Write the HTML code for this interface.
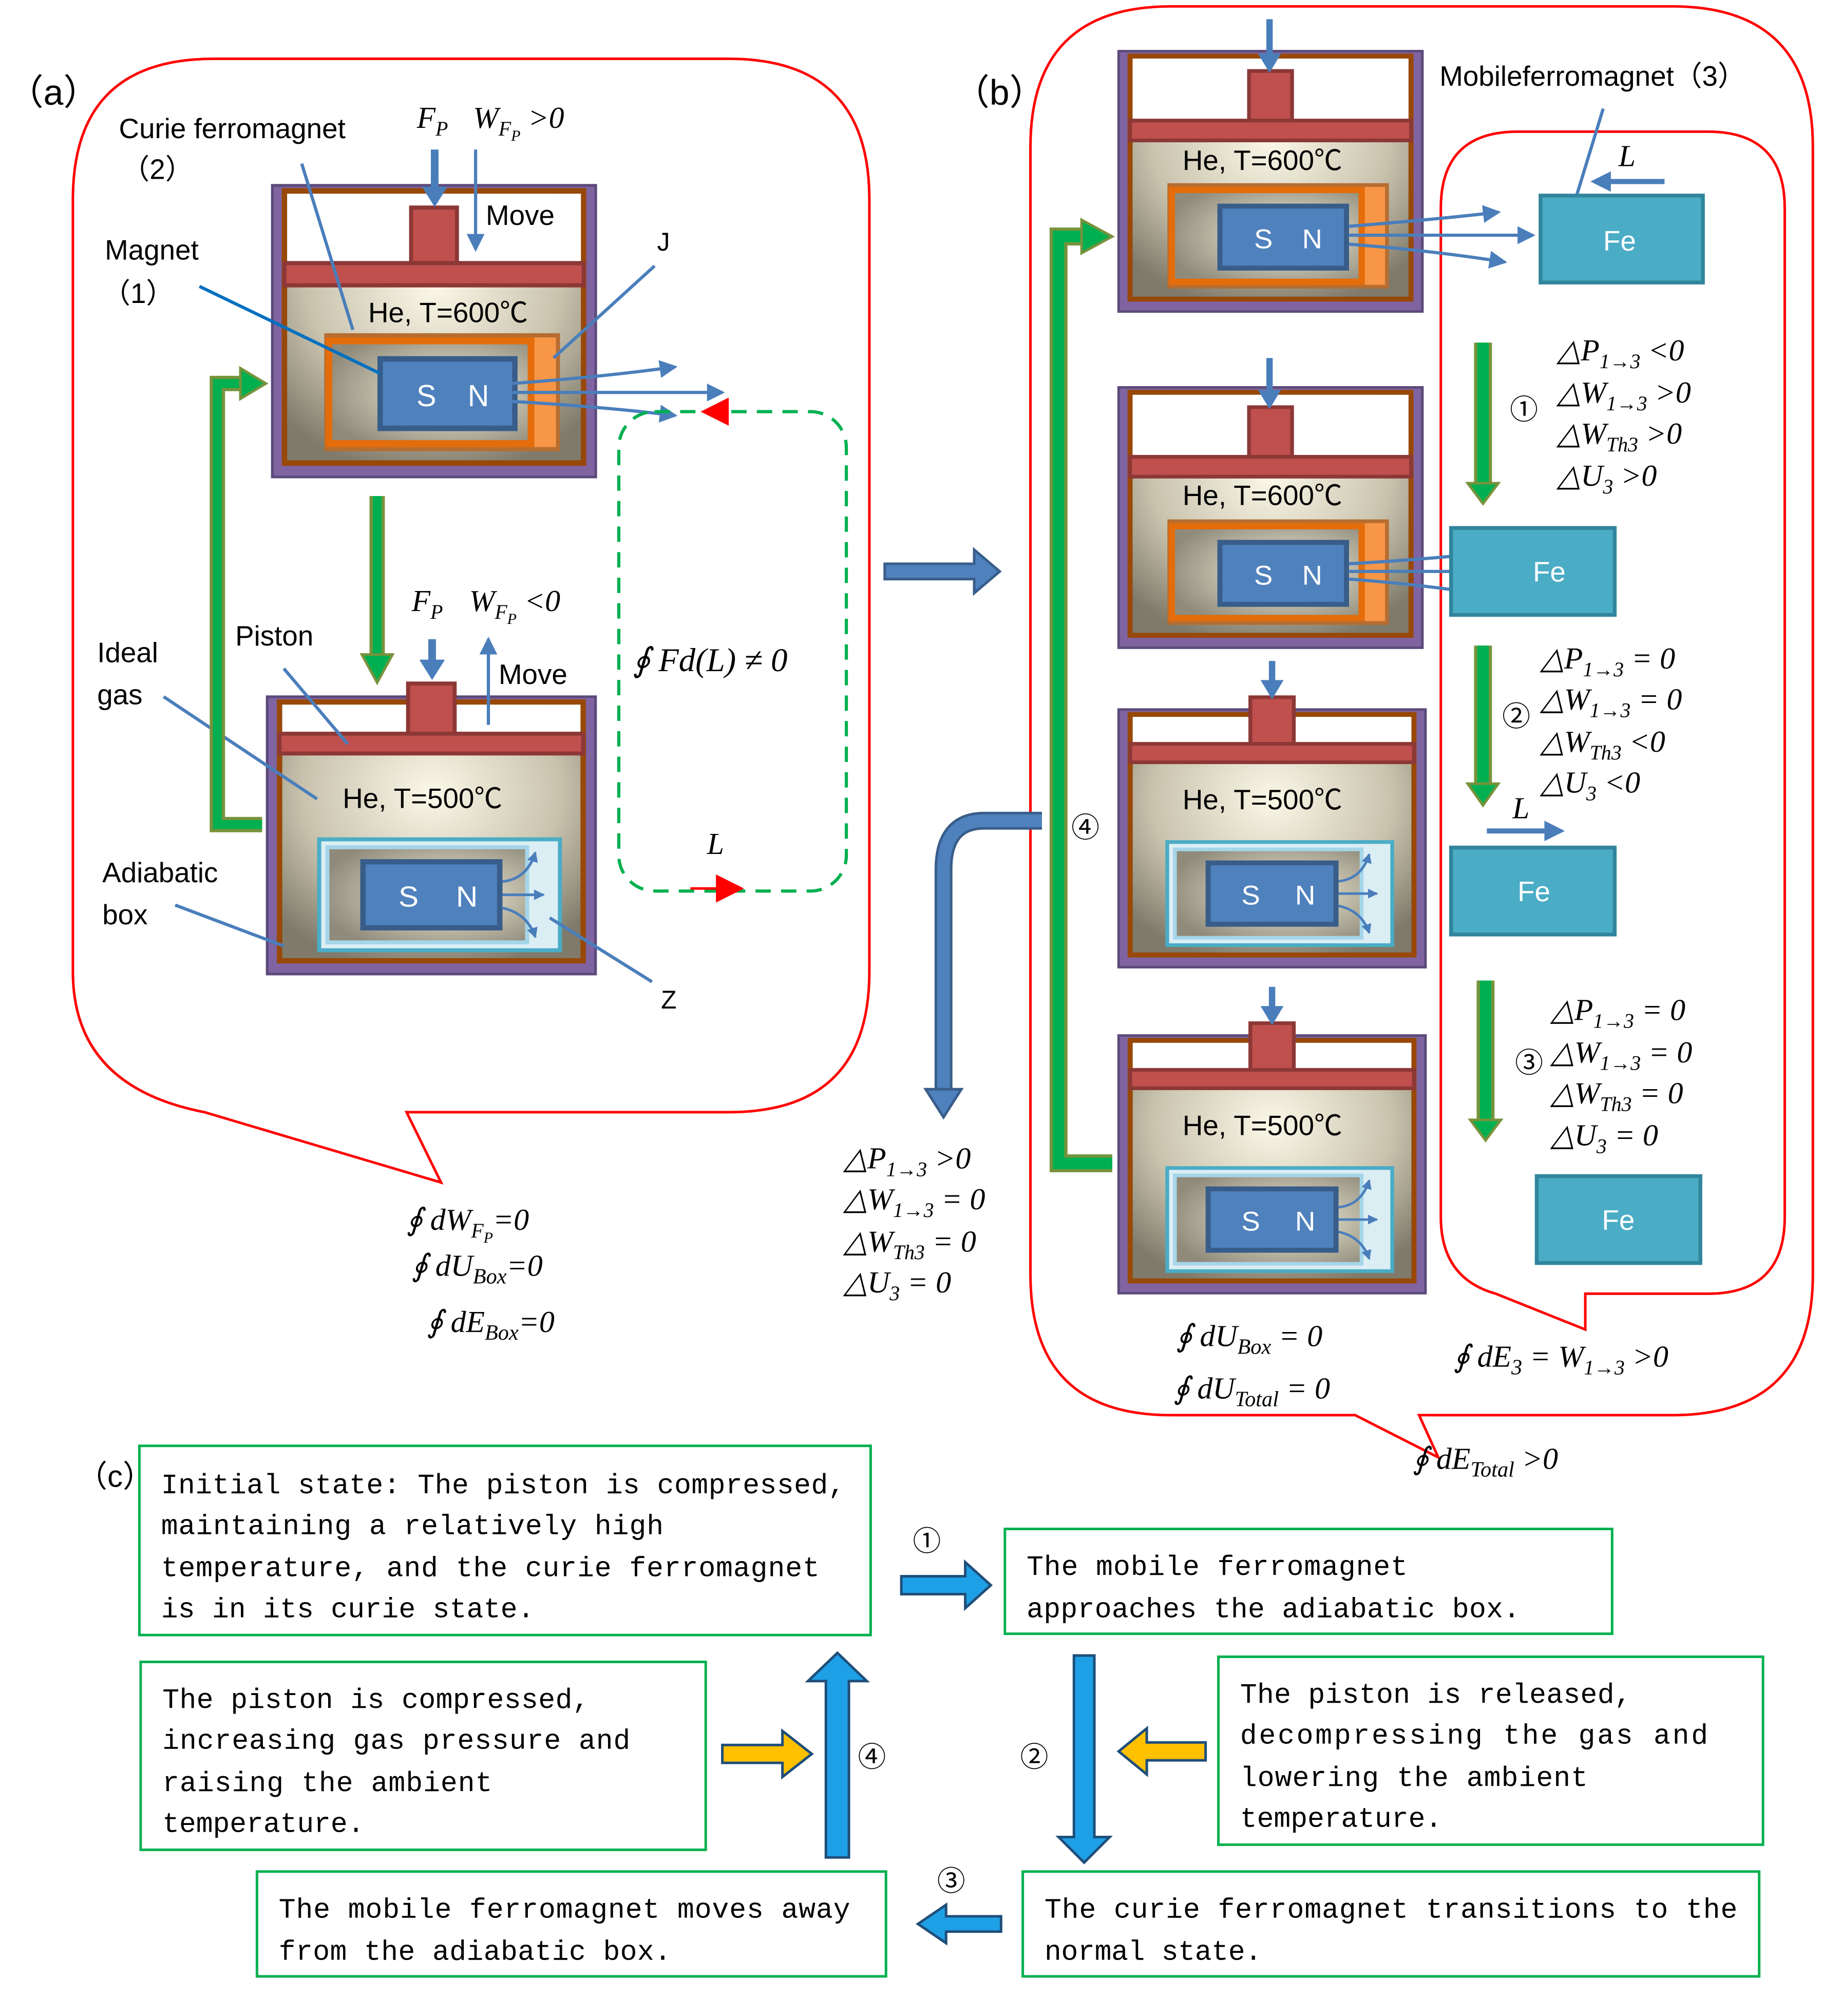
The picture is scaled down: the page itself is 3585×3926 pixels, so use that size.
<!DOCTYPE html>
<html><head><meta charset="utf-8"><style>
html,body{margin:0;padding:0;background:#fff}
svg{display:block}
.t{font-family:"Liberation Sans","Noto Sans CJK SC",sans-serif;fill:#000}
.m{font-family:"Liberation Serif",serif;font-style:italic;fill:#000}
.c{font-family:"Liberation Mono","Noto Sans CJK SC",monospace;fill:#000;font-size:22px}
</style></head><body>
<svg width="3585" height="3926" viewBox="0 0 1440 1577" xmlns="http://www.w3.org/2000/svg">
<defs>
<radialGradient id="gas" cx="50%" cy="35%" r="70%"><stop offset="0" stop-color="#fbf8e8"/><stop offset="0.6" stop-color="#c9c3ae"/><stop offset="1" stop-color="#7f7a6a"/></radialGradient>
<radialGradient id="inn" cx="60%" cy="50%" r="65%"><stop offset="0" stop-color="#f5f1dc"/><stop offset="1" stop-color="#8f8a7a"/></radialGradient>
<marker id="ab" markerWidth="8" markerHeight="8" refX="7" refY="4" orient="auto" markerUnits="userSpaceOnUse"><path d="M0,0 L8,4 L0,8 z" fill="#4a7ebb"/></marker>
<marker id="ab2" markerWidth="14" markerHeight="14" refX="12" refY="7" orient="auto" markerUnits="userSpaceOnUse"><path d="M0,0 L14,7 L0,14 z" fill="#4a7ebb"/></marker>
<g id="box">
<rect x="0" y="0" width="240" height="210" fill="#8064a2" stroke="#5c4a7a" stroke-width="2"/>
<rect x="9" y="4" width="222" height="196" fill="url(#gas)" stroke="#984807" stroke-width="4"/>
<rect x="11" y="6" width="218" height="50" fill="#fff"/>
<rect x="103" y="16" width="34" height="40" fill="#c0504d" stroke="#8c3836" stroke-width="3"/>
<rect x="9" y="56" width="222" height="16" fill="#c0504d" stroke="#8c3836" stroke-width="3"/>
</g>
<g id="cbox">
<rect x="0" y="0" width="240" height="210" fill="#8064a2" stroke="#5c4a7a" stroke-width="2"/>
<rect x="9" y="4" width="222" height="196" fill="url(#gas)" stroke="#984807" stroke-width="4"/>
<rect x="11" y="6" width="218" height="22" fill="#fff"/>
<rect x="103" y="-10" width="34" height="38" fill="#c0504d" stroke="#8c3836" stroke-width="3"/>
<rect x="9" y="28" width="222" height="15" fill="#c0504d" stroke="#8c3836" stroke-width="3"/>
</g>
<g id="hot">
<rect x="40" y="108" width="172" height="82" fill="#f79646" stroke="#b66d31" stroke-width="3"/>
<rect x="42" y="112" width="150" height="74" fill="url(#inn)" stroke="#e46c0a" stroke-width="5"/>
<rect x="80" y="125" width="100" height="50" fill="#4f81bd" stroke="#385d8a" stroke-width="4"/>
<text x="107" y="159" class="t" style="fill:#fff" font-size="22">S</text>
<text x="145" y="159" class="t" style="fill:#fff" font-size="22">N</text>
</g>
<g id="cold">
<rect x="38" y="108" width="176" height="84" fill="#dbeef4" stroke="#4bacc6" stroke-width="3"/>
<rect x="44" y="114" width="146" height="72" fill="url(#inn)" stroke="#a5d5e8" stroke-width="3"/>
<rect x="70" y="125" width="100" height="50" fill="#4f81bd" stroke="#385d8a" stroke-width="4"/>
<text x="96" y="159" class="t" style="fill:#fff" font-size="22">S</text>
<text x="138" y="159" class="t" style="fill:#fff" font-size="22">N</text>
<g stroke="#4a7ebb" stroke-width="2" fill="none">
<path d="M172,140 Q190,138 196,118" marker-end="url(#ab)"/>
<path d="M172,150 L202,150" marker-end="url(#ab)"/>
<path d="M172,160 Q190,164 196,182" marker-end="url(#ab)"/></g>
</g>
</defs>

<!-- (a) bubble -->
<path d="M167,46 H570 Q680,46 680,156 V760 Q680,870 570,870 H318 L345,925 L160,870 Q57,850 57,760 V156 Q57,46 167,46 Z" fill="none" stroke="#ff0000" stroke-width="2"/>
<text x="6" y="82" class="t" font-size="28">（a）</text>

<g transform="translate(213,145) scale(1.054,1.086)"><use href="#box"/><use href="#hot"/></g>
<text x="288" y="252" class="t" font-size="22">He, T=600℃</text>
<g stroke="#4a7ebb" stroke-width="2.5" fill="none">
<path d="M400,300 Q470,295 528,287" marker-end="url(#ab2)"/>
<path d="M400,307 L565,307" marker-end="url(#ab2)"/>
<path d="M400,314 Q470,318 528,325" marker-end="url(#ab2)"/></g>

<g transform="translate(209,545) scale(1.07,1.033)"><use href="#cbox"/><use href="#cold"/></g>
<text x="268" y="632" class="t" font-size="22">He, T=500℃</text>

<text x="93" y="108" class="t" font-size="22">Curie ferromagnet</text>
<text x="95" y="140" class="t" font-size="22">（2）</text>
<text x="82" y="203" class="t" font-size="22">Magnet</text>
<text x="80" y="237" class="t" font-size="22">（1）</text>
<text x="380" y="176" class="t" font-size="22">Move</text>
<text x="514" y="196" class="t" font-size="20">J</text>
<text x="184" y="505" class="t" font-size="22">Piston</text>
<text x="76" y="518" class="t" font-size="22">Ideal</text>
<text x="76" y="551" class="t" font-size="22">gas</text>
<text x="390" y="535" class="t" font-size="22">Move</text>
<text x="80" y="690" class="t" font-size="22">Adiabatic</text>
<text x="80" y="723" class="t" font-size="22">box</text>
<text x="517" y="789" class="t" font-size="20">Z</text>
<g stroke="#4a7ebb" stroke-width="2.5">
<line x1="236" y1="128" x2="276" y2="258"/>
<line x1="156" y1="224" x2="297" y2="292" stroke="#0070c0"/>
<line x1="512" y1="208" x2="433" y2="280"/>
<line x1="222" y1="523" x2="272" y2="582"/>
<line x1="128" y1="545" x2="248" y2="625"/>
<line x1="137" y1="708" x2="222" y2="740"/>
<line x1="510" y1="768" x2="430" y2="718"/>
</g>
<text x="326" y="100" class="m" font-size="24">F<tspan font-size="16" dy="6">P</tspan></text>
<text x="370" y="100" class="m" font-size="24">W<tspan font-size="16" dy="6">F</tspan><tspan font-size="12" dy="4">P</tspan><tspan dy="-10"> &gt;0</tspan></text>
<line x1="340" y1="117" x2="340" y2="150" stroke="#4a7ebb" stroke-width="6"/>
<path d="M330,146 L350,146 L340,162 z" fill="#4a7ebb"/>
<line x1="372" y1="117" x2="372" y2="195" stroke="#4a7ebb" stroke-width="2.5" marker-end="url(#ab2)"/>
<text x="322" y="478" class="m" font-size="24">F<tspan font-size="16" dy="6">P</tspan></text>
<text x="367" y="478" class="m" font-size="24">W<tspan font-size="16" dy="6">F</tspan><tspan font-size="12" dy="4">P</tspan><tspan dy="-10"> &lt;0</tspan></text>
<line x1="338" y1="500" x2="338" y2="520" stroke="#4a7ebb" stroke-width="6"/>
<path d="M328,516 L348,516 L338,532 z" fill="#4a7ebb"/>
<line x1="382" y1="567" x2="382" y2="500" stroke="#4a7ebb" stroke-width="2.5" marker-end="url(#ab2)"/>

<!-- green arrows (a) -->
<g stroke="#77933c" stroke-width="12" fill="none"><path d="M205,645 H170 V300 H190"/><path d="M295,388 V515"/></g>
<g stroke="#00b050" stroke-width="7" fill="none"><path d="M205,645 H170 V300 H190"/><path d="M295,388 V515"/></g>
<path d="M188,288 L208,300 L188,312 z" fill="#00b050" stroke="#77933c" stroke-width="2"/>
<path d="M283,512 L307,512 L295,534 z" fill="#00b050" stroke="#77933c" stroke-width="2"/>

<rect x="484" y="322" width="178" height="375" rx="28" fill="none" stroke="#00b050" stroke-width="2.5" stroke-dasharray="12,8"/>
<path d="M548,322 L570,311 L570,333 z" fill="#ff0000"/>
<line x1="540" y1="695" x2="565" y2="695" stroke="#ff0000" stroke-width="2"/>
<path d="M582,695 L560,684 L560,706 z" fill="#ff0000"/>
<text x="553" y="668" class="m" font-size="24">L</text>
<text x="495" y="525" class="m" font-size="26">∮ Fd(L) ≠ 0</text>

<text x="318" y="962" class="m" font-size="24">∮ dW<tspan font-size="16" dy="6">F</tspan><tspan font-size="12" dy="4">P</tspan><tspan dy="-10">=0</tspan></text>
<text x="322" y="998" class="m" font-size="24">∮ dU<tspan font-size="17" dy="6">Box</tspan><tspan dy="-6">=0</tspan></text>
<text x="334" y="1042" class="m" font-size="24">∮ dE<tspan font-size="17" dy="6">Box</tspan><tspan dy="-6">=0</tspan></text>

<!-- big arrow a->b -->
<path d="M692,441 H762 V430 L782,447 L762,464 V453 H692 z" fill="#4f81bd" stroke="#385d8a" stroke-width="2"/>

<!-- (b) bubble -->
<path d="M916,5 H1308 Q1418,5 1418,115 V997 Q1418,1107 1308,1107 H1110 L1125,1140 L1060,1107 H916 Q806,1107 806,997 V115 Q806,5 916,5 Z" fill="none" stroke="#ff0000" stroke-width="2"/>
<path d="M1187,103 H1336 Q1396,103 1396,163 V952 Q1396,1012 1336,1012 H1240 V1040 L1170,1012 Q1127,1000 1127,952 V163 Q1127,103 1187,103 Z" fill="none" stroke="#ff0000" stroke-width="2"/>
<text x="746" y="82" class="t" font-size="28">（b）</text>
<text x="1126" y="67" class="t" font-size="22">Mobileferromagnet（3）</text>
<line x1="1254" y1="85" x2="1228" y2="170" stroke="#4a7ebb" stroke-width="2.5"/>

<g transform="translate(875,40) scale(0.99,0.97)"><use href="#box"/><use href="#hot"/></g>
<text x="925" y="133" class="t" font-size="22">He, T=600℃</text>
<g transform="translate(875,303) scale(0.99,0.97)"><use href="#box"/><use href="#hot"/></g>
<text x="925" y="395" class="t" font-size="22">He, T=600℃</text>
<g transform="translate(875,555) scale(1,0.96)"><use href="#cbox"/><use href="#cold"/></g>
<text x="925" y="633" class="t" font-size="22">He, T=500℃</text>
<g transform="translate(875,810) scale(1,0.96)"><use href="#cbox"/><use href="#cold"/></g>
<text x="925" y="888" class="t" font-size="22">He, T=500℃</text>

<g stroke="#4a7ebb" stroke-width="5">
<line x1="993" y1="15" x2="993" y2="45"/><line x1="993" y1="280" x2="993" y2="308"/><line x1="995" y1="517" x2="995" y2="535"/><line x1="995" y1="772" x2="995" y2="790"/></g>
<g fill="#4a7ebb"><path d="M984,42 L1002,42 L993,57 z"/><path d="M984,305 L1002,305 L993,320 z"/><path d="M986,532 L1004,532 L995,547 z"/><path d="M986,787 L1004,787 L995,802 z"/></g>
<g stroke="#4a7ebb" stroke-width="2.5" fill="none">
<path d="M1055,177 Q1120,172 1172,166" marker-end="url(#ab2)"/>
<path d="M1055,184 L1199,184" marker-end="url(#ab2)"/>
<path d="M1055,191 Q1120,196 1177,205" marker-end="url(#ab2)"/>
<path d="M1055,441 Q1110,438 1157,433" marker-end="url(#ab2)"/>
<path d="M1055,447 L1187,447" marker-end="url(#ab2)"/>
<path d="M1055,453 Q1110,457 1162,465" marker-end="url(#ab2)"/></g>

<g fill="#4bacc6" stroke="#31859c" stroke-width="3">
<rect x="1205" y="153" width="127" height="68"/><rect x="1135" y="413" width="128" height="68"/><rect x="1135" y="663" width="128" height="68"/><rect x="1202" y="920" width="128" height="68"/></g>
<g class="t" font-size="22"><text x="1254" y="196" style="fill:#fff">Fe</text><text x="1199" y="455" style="fill:#fff">Fe</text><text x="1187" y="705" style="fill:#fff">Fe</text><text x="1253" y="962" style="fill:#fff">Fe</text></g>
<text x="1266" y="130" class="m" font-size="24">L</text>
<line x1="1302" y1="142" x2="1258" y2="142" stroke="#4a7ebb" stroke-width="4"/><path d="M1244,142 L1260,134 L1260,150 z" fill="#4a7ebb"/>
<text x="1183" y="640" class="m" font-size="24">L</text>
<line x1="1163" y1="650" x2="1210" y2="650" stroke="#4a7ebb" stroke-width="4"/><path d="M1224,650 L1208,642 L1208,658 z" fill="#4a7ebb"/>

<!-- green arrows (b) -->
<g stroke="#77933c" stroke-width="14" fill="none"><path d="M870,910 H828 V185 H850"/><path d="M1160,268 V380"/><path d="M1160,505 V615"/><path d="M1162,767 V878"/></g>
<g stroke="#00b050" stroke-width="9" fill="none"><path d="M870,910 H828 V185 H850"/><path d="M1160,268 V380"/><path d="M1160,505 V615"/><path d="M1162,767 V878"/></g>
<path d="M846,172 L870,185 L846,198 z" fill="#00b050" stroke="#77933c" stroke-width="2"/>
<g fill="#00b050" stroke="#77933c" stroke-width="2"><path d="M1148,378 L1172,378 L1160,394 z"/><path d="M1148,613 L1172,613 L1160,630 z"/><path d="M1150,876 L1174,876 L1162,892 z"/></g>
<text x="838" y="655" class="t" font-size="22">④</text>

<!-- blue bend arrow -->
<path d="M815,642 H770 Q738,642 738,680 V855" stroke="#385d8a" stroke-width="14" fill="none"/>
<path d="M815,642 H770 Q738,642 738,680 V855" stroke="#4f81bd" stroke-width="10" fill="none"/>
<path d="M724,852 L752,852 L738,874 z" fill="#4f81bd" stroke="#385d8a" stroke-width="2"/>

<g class="m" font-size="24">
<text x="1218" y="282">△P<tspan font-size="16" dy="6">1→3</tspan><tspan dy="-6"> &lt;0</tspan></text>
<text x="1218" y="315">△W<tspan font-size="16" dy="6">1→3</tspan><tspan dy="-6"> &gt;0</tspan></text>
<text x="1218" y="347">△W<tspan font-size="16" dy="6">Th3</tspan><tspan dy="-6"> &gt;0</tspan></text>
<text x="1218" y="380">△U<tspan font-size="16" dy="6">3</tspan><tspan dy="-6"> &gt;0</tspan></text>
<text x="1205" y="523">△P<tspan font-size="16" dy="6">1→3</tspan><tspan dy="-6"> = 0</tspan></text>
<text x="1205" y="555">△W<tspan font-size="16" dy="6">1→3</tspan><tspan dy="-6"> = 0</tspan></text>
<text x="1205" y="588">△W<tspan font-size="16" dy="6">Th3</tspan><tspan dy="-6"> &lt;0</tspan></text>
<text x="1205" y="620">△U<tspan font-size="16" dy="6">3</tspan><tspan dy="-6"> &lt;0</tspan></text>
<text x="1213" y="798">△P<tspan font-size="16" dy="6">1→3</tspan><tspan dy="-6"> = 0</tspan></text>
<text x="1213" y="831">△W<tspan font-size="16" dy="6">1→3</tspan><tspan dy="-6"> = 0</tspan></text>
<text x="1213" y="863">△W<tspan font-size="16" dy="6">Th3</tspan><tspan dy="-6"> = 0</tspan></text>
<text x="1213" y="896">△U<tspan font-size="16" dy="6">3</tspan><tspan dy="-6"> = 0</tspan></text>
<text x="660" y="914">△P<tspan font-size="16" dy="6">1→3</tspan><tspan dy="-6">  &gt;0</tspan></text>
<text x="660" y="946">△W<tspan font-size="16" dy="6">1→3</tspan><tspan dy="-6"> = 0</tspan></text>
<text x="660" y="979">△W<tspan font-size="16" dy="6">Th3</tspan><tspan dy="-6"> = 0</tspan></text>
<text x="660" y="1011">△U<tspan font-size="16" dy="6">3</tspan><tspan dy="-6"> = 0</tspan></text>
<text x="920" y="1053">∮ dU<tspan font-size="17" dy="6">Box</tspan><tspan dy="-6"> = 0</tspan></text>
<text x="918" y="1094">∮ dU<tspan font-size="17" dy="6">Total</tspan><tspan dy="-6"> = 0</tspan></text>
<text x="1137" y="1069">∮ dE<tspan font-size="17" dy="6">3</tspan><tspan dy="-6"> = W</tspan><tspan font-size="16" dy="6">1→3</tspan><tspan dy="-6"> &gt;0</tspan></text>
<text x="1105" y="1149">∮ dE<tspan font-size="17" dy="6">Total</tspan><tspan dy="-6"> &gt;0</tspan></text>
</g>
<g class="t" font-size="22"><text x="1181" y="328">①</text><text x="1175" y="568">②</text><text x="1185" y="839">③</text></g>

<!-- (c) -->
<text x="60" y="1163" class="t" font-size="24">（c）</text>
<g fill="none" stroke="#00b050" stroke-width="2">
<rect x="109" y="1131" width="572" height="148"/><rect x="786" y="1196" width="475" height="82"/>
<rect x="110" y="1300" width="442" height="147"/><rect x="953" y="1296" width="426" height="147"/>
<rect x="201" y="1464" width="492" height="82"/><rect x="800" y="1464" width="576" height="82"/>
</g>
<g class="c">
<text x="126" y="1168" textLength="535">Initial state: The piston is compressed,</text>
<text x="126" y="1200" textLength="393">maintaining a relatively high</text>
<text x="126" y="1233" textLength="515">temperature, and the curie ferromagnet</text>
<text x="126" y="1265" textLength="292">is in its curie state.</text>
<text x="803" y="1232" textLength="298">The mobile ferromagnet</text>
<text x="803" y="1265" textLength="386">approaches the adiabatic box.</text>
<text x="127" y="1336" textLength="334">The piston is compressed,</text>
<text x="127" y="1368" textLength="366">increasing gas pressure and</text>
<text x="127" y="1401" textLength="258">raising the ambient</text>
<text x="127" y="1433" textLength="158">temperature.</text>
<text x="970" y="1332" textLength="306">The piston is released,</text>
<text x="970" y="1364" textLength="366">decompressing the gas and</text>
<text x="970" y="1397" textLength="272">lowering the ambient</text>
<text x="970" y="1429" textLength="158">temperature.</text>
<text x="218" y="1500" textLength="447">The mobile ferromagnet moves away</text>
<text x="218" y="1533" textLength="307">from the adiabatic box.</text>
<text x="817" y="1500" textLength="542">The curie ferromagnet transitions to the</text>
<text x="817" y="1533" textLength="170">normal state.</text>
</g>
<g fill="#1ea0e6" stroke="#1f4e79" stroke-width="2">
<path d="M705,1233 H755 V1222 L775,1240 L755,1258 V1247 H705 z"/>
<path d="M840,1295 H856 V1437 H868 L848,1457 L828,1437 H840 z"/>
<path d="M783,1499 H740 V1490 L718,1505 L740,1520 V1511 H783 z"/>
<path d="M646,1453 V1315 H632 L655,1293 L678,1315 H664 V1453 z"/>
</g>
<g fill="#ffc000" stroke="#1f4e79" stroke-width="2">
<path d="M943,1363 H897 V1352 L875,1370 L897,1388 V1377 H943 z"/>
<path d="M565,1365 H612 V1354 L635,1372 L612,1390 V1379 H565 z"/>
</g>
<g class="t" font-size="22"><text x="714" y="1213">①</text><text x="798" y="1382">②</text><text x="733" y="1479">③</text><text x="671" y="1382">④</text></g>
</svg>
</body></html>
